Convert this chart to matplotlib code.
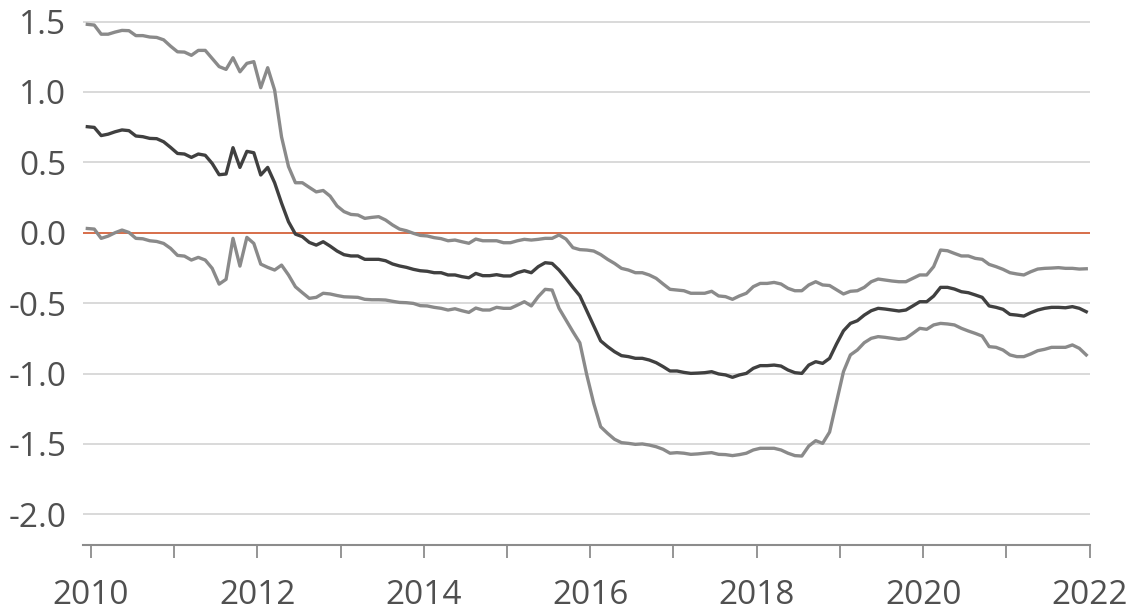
import matplotlib
matplotlib.use("Agg")
import matplotlib.pyplot as plt
import numpy as np
import pandas as pd

# monthly observations, Dec 2009 .. Dec 2021
months = pd.period_range("2009-12", "2021-12", freq="M")

upper = [
    1.48, 1.475, 1.41, 1.41, 1.425, 1.437, 1.435, 1.40, 1.40, 1.39, 1.387, 1.37,
    1.325, 1.285, 1.283, 1.26, 1.295, 1.295, 1.238, 1.18, 1.16, 1.243, 1.143, 1.203,
    1.215, 1.03, 1.172, 1.013, 0.68, 0.47, 0.355, 0.355, 0.322, 0.29, 0.30, 0.26,
    0.19, 0.15, 0.13, 0.126, 0.102, 0.109, 0.114, 0.09, 0.055, 0.026, 0.014, -0.004,
    -0.019, -0.023, -0.035, -0.042, -0.057, -0.052, -0.064, -0.075, -0.045, -0.057, -0.057, -0.057,
    -0.071, -0.071, -0.057, -0.047, -0.052, -0.047, -0.04, -0.04, -0.016, -0.045, -0.106, -0.12,
    -0.123, -0.13, -0.155, -0.189, -0.218, -0.253, -0.265, -0.284, -0.284, -0.30, -0.324, -0.364,
    -0.402, -0.407, -0.412, -0.43, -0.43, -0.43, -0.416, -0.449, -0.454, -0.473, -0.449, -0.43,
    -0.383, -0.36, -0.36, -0.353, -0.364, -0.395, -0.412, -0.412, -0.371, -0.348, -0.371, -0.375,
    -0.405, -0.435, -0.416, -0.412, -0.388, -0.348, -0.329, -0.336, -0.343, -0.348, -0.348, -0.324,
    -0.30, -0.30, -0.241, -0.123, -0.128, -0.147, -0.165, -0.165, -0.182, -0.189, -0.225, -0.241,
    -0.26, -0.284, -0.293, -0.30, -0.277, -0.258, -0.253, -0.251, -0.248, -0.253, -0.253, -0.258,
    -0.256,
]

middle = [
    0.753, 0.748, 0.69, 0.70, 0.717, 0.73, 0.725, 0.687, 0.682, 0.67, 0.668, 0.646,
    0.606, 0.563, 0.559, 0.535, 0.559, 0.55, 0.492, 0.412, 0.417, 0.604, 0.464, 0.578,
    0.568, 0.41, 0.464, 0.355, 0.21, 0.078, -0.01, -0.028, -0.069, -0.088, -0.064, -0.095,
    -0.13, -0.156, -0.165, -0.165, -0.189, -0.189, -0.189, -0.199, -0.222, -0.236, -0.246, -0.26,
    -0.27, -0.274, -0.284, -0.284, -0.30, -0.30, -0.312, -0.32, -0.289, -0.305, -0.305, -0.298,
    -0.307, -0.307, -0.284, -0.27, -0.284, -0.241, -0.213, -0.218, -0.265, -0.324, -0.388, -0.448,
    -0.555, -0.661, -0.768, -0.809, -0.845, -0.873, -0.88, -0.892, -0.892, -0.904, -0.923, -0.951,
    -0.982, -0.982, -0.992, -0.999, -0.997, -0.994, -0.987, -1.003, -1.01, -1.027, -1.01, -0.999,
    -0.963, -0.944, -0.944, -0.94, -0.947, -0.975, -0.994, -0.999, -0.94, -0.916, -0.928, -0.892,
    -0.79, -0.697, -0.644, -0.625, -0.585, -0.554, -0.537, -0.542, -0.549, -0.556, -0.549, -0.52,
    -0.49, -0.49, -0.45, -0.388, -0.388, -0.40, -0.419, -0.426, -0.442, -0.459, -0.52, -0.53,
    -0.544, -0.58, -0.585, -0.592, -0.568, -0.549, -0.537, -0.53, -0.53, -0.533, -0.525, -0.537,
    -0.561,
]

lower = [
    0.03, 0.026, -0.04, -0.024, 0.0, 0.019, 0.002, -0.04, -0.043, -0.057, -0.062, -0.076,
    -0.111, -0.161, -0.166, -0.194, -0.175, -0.194, -0.253, -0.365, -0.331, -0.04, -0.237, -0.033,
    -0.076, -0.223, -0.246, -0.265, -0.23, -0.30, -0.384, -0.426, -0.466, -0.459, -0.43, -0.435,
    -0.446, -0.455, -0.457, -0.459, -0.473, -0.476, -0.476, -0.478, -0.487, -0.495, -0.497, -0.502,
    -0.518, -0.52, -0.53, -0.537, -0.549, -0.54, -0.554, -0.566, -0.535, -0.549, -0.549, -0.53,
    -0.537, -0.537, -0.514, -0.49, -0.52, -0.454, -0.402, -0.407, -0.537, -0.62, -0.703, -0.782,
    -1.01, -1.212, -1.378, -1.425, -1.467, -1.491, -1.496, -1.503, -1.5, -1.508, -1.52, -1.538,
    -1.566, -1.562, -1.566, -1.574, -1.571, -1.566, -1.562, -1.574, -1.576, -1.583, -1.576, -1.566,
    -1.543, -1.531, -1.531, -1.531, -1.543, -1.566, -1.583, -1.586, -1.515, -1.477, -1.496, -1.416,
    -1.2, -0.987, -0.868, -0.833, -0.781, -0.75, -0.738, -0.743, -0.75, -0.757, -0.75, -0.715,
    -0.679, -0.686, -0.655, -0.644, -0.648, -0.655, -0.679, -0.698, -0.715, -0.734, -0.809, -0.814,
    -0.833, -0.868, -0.88, -0.88, -0.861, -0.838, -0.828, -0.814, -0.814, -0.814, -0.797, -0.821,
    -0.868,
]

year_ticks = list(range(2010, 2023))
year_labels = [str(y) if y % 2 == 0 else "" for y in year_ticks]
y_ticks = [1.5, 1.0, 0.5, 0.0, -0.5, -1.0, -1.5, -2.0]

plt.rcParams["font.family"] = ["Open Sans", "DejaVu Sans"]

# mid-month positions on a fractional-year axis
x = np.array([p.year + (p.month - 0.5) / 12 for p in months])

fig = plt.figure(figsize=(11.33, 6.14), dpi=100)
ax = fig.add_axes([0.0733, 0.1119, 0.8885, 0.8645])

for yv in y_ticks:
    if yv != 0.0:
        ax.axhline(yv, color="#d9d9d9", linewidth=1.4, zorder=1)
ax.axhline(0.0, color="#d4623b", linewidth=1.3, zorder=2)

ax.plot(x, upper, color="#8a8a8a", linewidth=2.4, zorder=3, solid_joinstyle="round")
ax.plot(x, lower, color="#8a8a8a", linewidth=2.4, zorder=3, solid_joinstyle="round")
ax.plot(x, middle, color="#404040", linewidth=2.4, zorder=4, solid_joinstyle="round")

ax.set_xlim(2009.907, 2022.0)
ax.set_ylim(-2.22, 1.55)

ax.set_yticks(y_ticks)
ax.set_yticklabels([f"{v:.1f}" for v in y_ticks])
ax.set_xticks(year_ticks)
ax.set_xticklabels(year_labels)

for side in ("top", "right", "left"):
    ax.spines[side].set_visible(False)
ax.spines["bottom"].set_color("#8c8c8c")
ax.spines["bottom"].set_linewidth(1.5)

ax.tick_params(axis="y", length=0, pad=12, labelsize=24, labelcolor="#505050")
ax.tick_params(axis="x", direction="out", length=9.5, width=1.3, color="#8c8c8c",
               pad=15, labelsize=24, labelcolor="#505050")

fig.savefig("out.png", dpi=100)
